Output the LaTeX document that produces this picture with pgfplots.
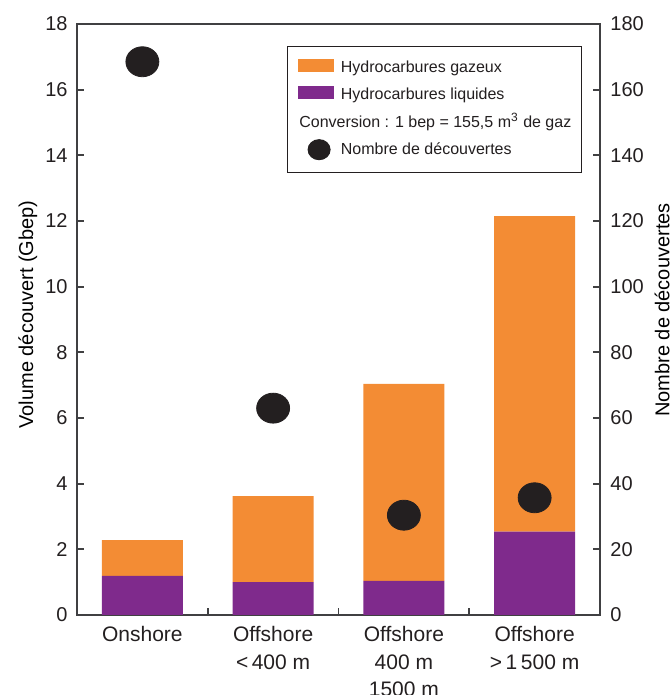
\documentclass[border=0pt]{standalone}
\usepackage{pgfplots}
\pgfplotsset{compat=1.18}
\usepackage{fontspec}
\setmainfont{Liberation Sans}

\definecolor{gazC}{RGB}{243,140,52}
\definecolor{liqC}{RGB}{127,42,140}
\definecolor{dotC}{RGB}{35,31,32}
\definecolor{axisC}{RGB}{64,64,66}
\definecolor{textC}{RGB}{35,31,32}

\pgfplotsset{
  common/.style={
    scale only axis,
    width=261.5pt, height=295.5pt,
    xmin=-0.5, xmax=3.5,
    axis line style={draw=axisC, line width=0.85pt},
    every tick/.style={draw=axisC, line width=0.85pt},
    tick align=inside,
    major tick length=3.7pt,
    /pgf/number format/assume math mode=true,
    tick label style={font=\fontsize{10pt}{12pt}\selectfont, text=textC},
    label style={font=\fontsize{10.2pt}{12pt}\selectfont, text=textC},
  },
}

\begin{document}
\begin{tikzpicture}
% left axis: volumes (Gbep)
\begin{axis}[
  common,
  ymin=0, ymax=18,
  ytick={0,2,...,18},
  ytick pos=left,
  xtick pos=bottom,
  yticklabel style={xshift=-1.2pt},
  xtick={0.5,1.5,2.5},
  xticklabels={,,},
  extra x ticks={0,1,2,3},
  extra x tick labels={Onshore, Offshore\\{<}\,400 m, Offshore\\400 m\\1500 m, Offshore\\{>}\,1\,500 m},
  extra x tick style={major tick length=0pt},
  xticklabel style={align=center, font=\fontsize{10.5pt}{13.65pt}\selectfont, text=textC, yshift=-2.3pt},
  ybar stacked,
  bar width=0.62,
  every axis y label/.style={at={(axis description cs:-0.0841,0.5085)}, rotate=90, anchor=base},
  ylabel={Volume découvert (Gbep)},
]
\addplot[fill=liqC, draw=none] coordinates {(0,1.19) (1,1.00) (2,1.04) (3,2.54)};
\addplot[fill=gazC, draw=none] coordinates {(0,1.09) (1,2.62) (2,6.00) (3,9.61)};
\end{axis}

% right axis: number of discoveries
\begin{axis}[
  common,
  ymin=0, ymax=180,
  ytick={0,20,...,180},
  ytick pos=right,
  hide x axis,
  yticklabel style={xshift=1.7pt},
  every axis y label/.style={at={(axis description cs:1.1325,0.5161)}, rotate=90, anchor=base},
  ylabel={Nombre de découvertes},
  legend cell align=left,
  legend style={
    at={(axis description cs:0.4023,0.9628)}, anchor=north west,
    draw=dotC, line width=0.5pt, fill=white,
    inner xsep=5.2pt, inner ysep=5.15pt,
    column sep=3.3pt, row sep=1.6pt,
    font=\fontsize{8pt}{9.6pt}\selectfont, text=textC,
    nodes={inner sep=0pt, text height=8pt, text depth=4pt},
  },
]
\addlegendimage{legend image code/.code={\fill[gazC] (0pt,-1.35pt) rectangle (17.5pt,4.65pt);}}
\addlegendimage{legend image code/.code={\fill[liqC] (0pt,-1.35pt) rectangle (17.5pt,4.65pt);}}
\addlegendimage{empty legend}
\addplot[only marks, mark=*, mark size=7.5pt, color=dotC,
  mark options={xscale=1.1, fill=dotC, draw=dotC},
  legend image code/.code={\fill[dotC] (10.15pt,0.35pt) ellipse [x radius=5.5pt, y radius=5pt];}]
  coordinates {(0,168.5) (1,63.0) (2,30.4) (3,35.7)};
\legend{Hydrocarbures gazeux, Hydrocarbures liquides, {\hspace*{-20.8pt}Conversion : 1 bep = 155,5 m\textsuperscript{3} de gaz}, Nombre de découvertes}
\end{axis}

\pgfresetboundingbox
\path[use as bounding box] (-38.5pt,-40pt) rectangle (297.5pt,307.5pt);
\end{tikzpicture}
\end{document}
